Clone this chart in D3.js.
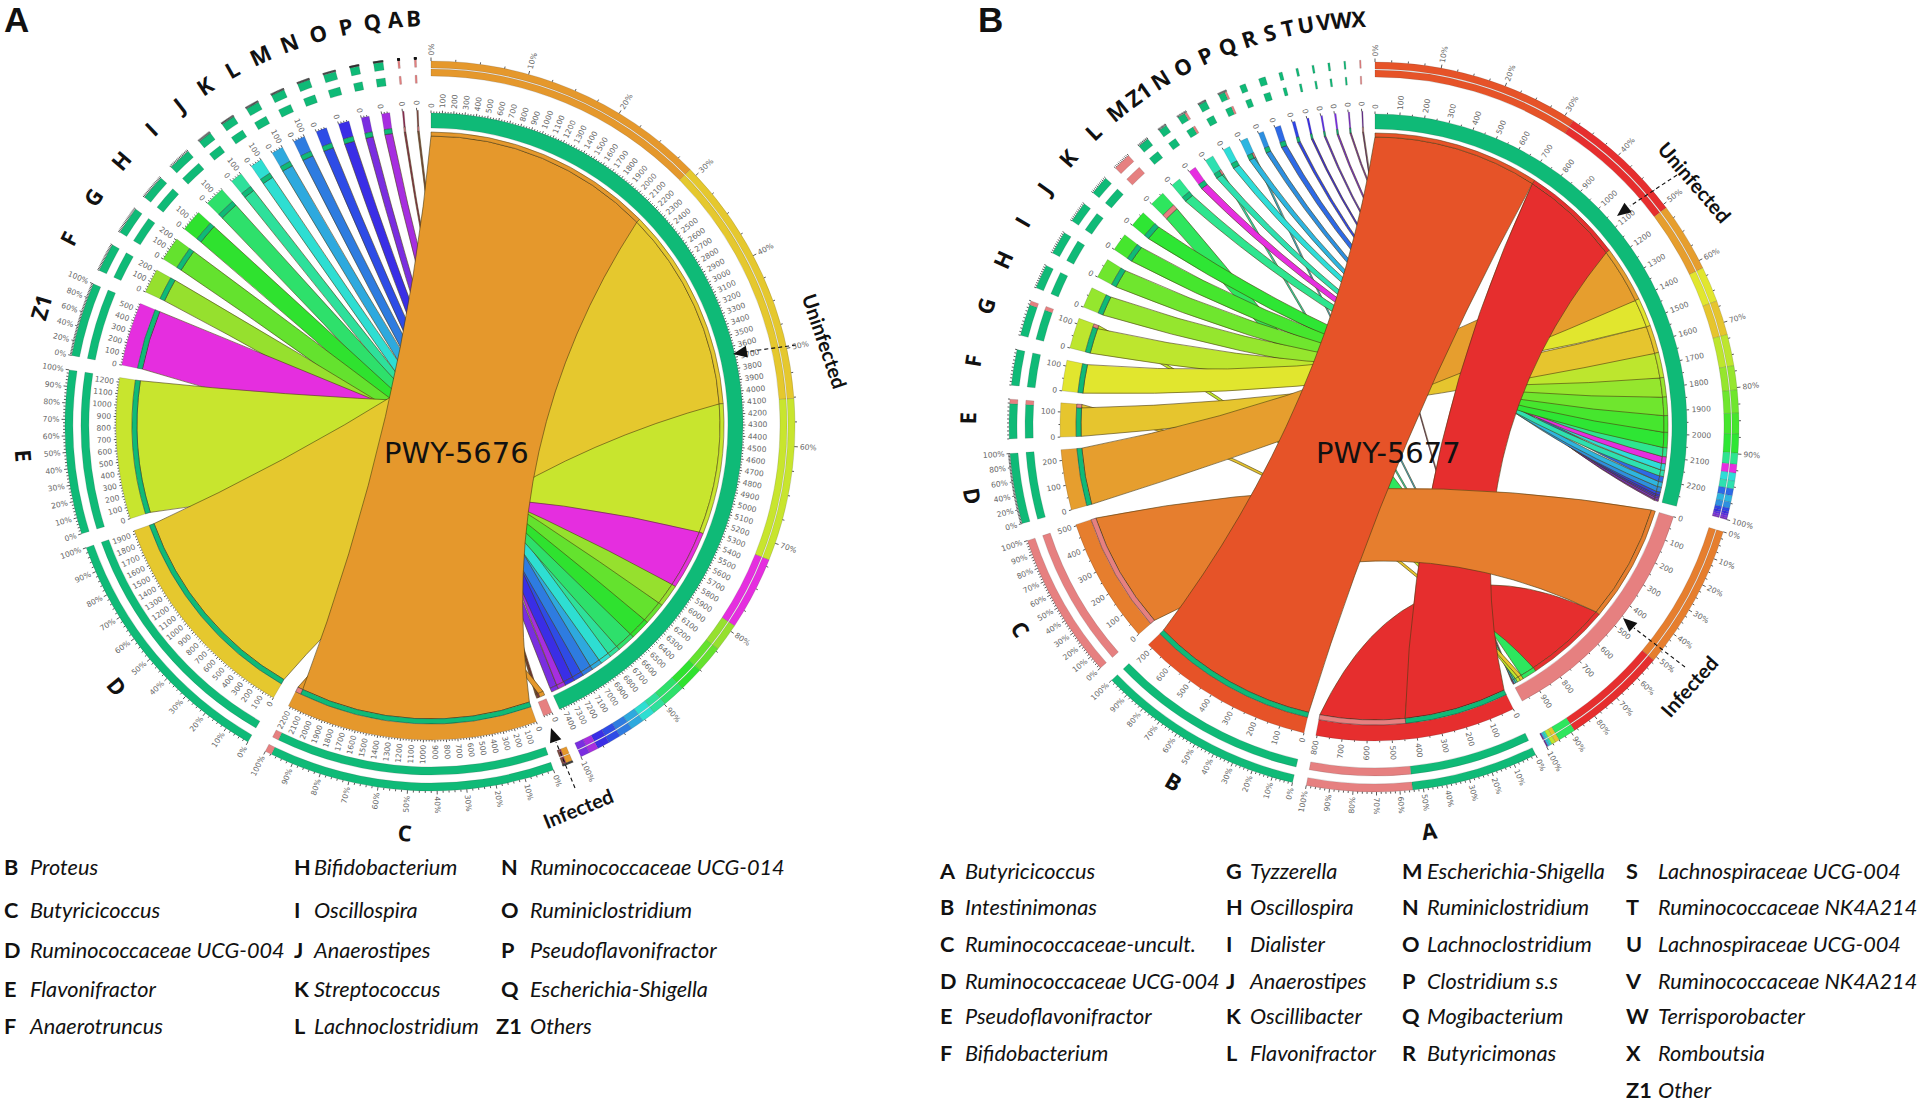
<!DOCTYPE html>
<html><head><meta charset="utf-8">
<script src="https://cdnjs.cloudflare.com/ajax/libs/d3/7.8.5/d3.min.js"></script>
<style>html,body{margin:0;background:#fff}svg{display:block}</style></head>
<body><svg id="c" width="1920" height="1103" viewBox="0 0 1920 1103"></svg>
<script>
// ---------- data: panel A (PWY-5676)
const speciesA   =["C","D","E","Z1","F","G","H","I","J","K","L","M","N","O","P","Q","A","B"];
const uninfectedA=[2170,1930,1240,560,215,210,190,175,105,105,103,103,95,95,70,72,0,0];
const infectedA  =[50,0,0,0,0,0,0,0,0,0,0,0,0,0,0,0,15,15];
const colorsA    =["#E5982C","#E5C82E","#C8E52E","#E52EDF","#96E02E","#64E22E","#2FE22F","#2EE06B","#2EE09B","#2EDED2","#2EA9DE","#2E7CE0","#2E4CE6","#3A2EE6","#7A2EE0","#A62EE0","#8a2e50","#7a4a40"];
// ---------- data: panel B (PWY-5677)
const speciesB   =["A","B","C","D","E","F","G","H","I","J","K","L","M","Z1","N","O","P","Q","R","S","T","U","V","W","X"];
const uninfectedB=[440,720,0,243,121,123,109,84,80,72,66,0,39,30,27,28,23,21,24,12,8,7,7,6,0];
const infectedB  =[365,0,505,0,15,0,14,0,0,0,0,62,0,0,8,0,7,0,0,0,0,0,0,0,5];
const colorsB    =["#E62E2E","#E65328","#E67E2E","#E69E2E","#E6C52E","#E1E62E","#BDE62E","#95E62E","#6FE62E","#46E62E","#2EE634","#2EE65E","#2EE58F","#E62EE0","#2EE0B0","#2EDDD8","#2EB5E0","#2E8FE0","#2E6AE6","#2E45E6","#3A2EE6","#5B2EE6","#7B2EE6","#7B2EC0","#6A2E90"];
const hubNames=["Uninfected","Infected"];
const hubColors=["#0FBA77","#E68080"];
// ---------- legends
const legendLettersA=[["B","C","D","E","F"],["H","I","J","K","L"],["N","O","P","Q","Z1"]];
const legendNamesA=[["Proteus","Butyricicoccus","Ruminococcaceae UCG-004","Flavonifractor","Anaerotruncus"],
 ["Bifidobacterium","Oscillospira","Anaerostipes","Streptococcus","Lachnoclostridium"],
 ["Ruminococcaceae UCG-014","Ruminiclostridium","Pseudoflavonifractor","Escherichia-Shigella","Others"]];
const legendLettersB=[["A","B","C","D","E","F"],["G","H","I","J","K","L"],["M","N","O","P","Q","R"],["S","T","U","V","W","X","Z1"]];
const legendNamesB=[["Butyricicoccus","Intestinimonas","Ruminococcaceae-uncult.","Ruminococcaceae UCG-004","Pseudoflavonifractor","Bifidobacterium"],
 ["Tyzzerella","Oscillospira","Dialister","Anaerostipes","Oscillibacter","Flavonifractor"],
 ["Escherichia-Shigella","Ruminiclostridium","Lachnoclostridium","Clostridium s.s","Mogibacterium","Butyricimonas"],
 ["Lachnospiraceae UCG-004","Ruminococcaceae NK4A214","Lachnospiraceae UCG-004","Ruminococcaceae NK4A214","Terrisporobacter","Romboutsia","Other"]];

const svg=d3.select("#c");
const rad=d=>d*Math.PI/180;
const R={hubO1:[357,364],hubO2:[349,356],spO1:[358,366],spO2:[342,350],ide:[299,315],hub:[297,312],strip:[294,299],hubCap:[289,293],rib:294,ribHub:289,letter:408};
const CTRL=0.42;

function drawPanel(p){
  const g=svg.append("g").attr("transform",`translate(${p.cx},${p.cy})`);
  const sumU=d3.sum(p.u), sumF=d3.sum(p.f);
  const segs=[{name:hubNames[0],color:hubColors[0],size:sumU,hub:true},{name:hubNames[1],color:hubColors[1],size:sumF,hub:true}]
    .concat(p.species.map((s,i)=>({name:s,color:p.colors[i],size:p.u[i]+p.f[i],idx:i})));
  const total=d3.sum(segs,d=>d.size);
  const gaps=segs.map((s,i)=>p.gapAfter(i));
  const k=d3.scaleLinear().domain([0,total]).range([0,360-d3.sum(gaps)]);
  let cum=0,gs=0;
  segs.forEach((s,i)=>{s.a0=p.start+k(cum)+gs;cum+=s.size;s.a1=p.start+k(cum)+gs;gs+=gaps[i];
    s.scale=d3.scaleLinear().domain([0,s.size]).range([s.a0,s.a1]);s.parts=[];});
  // flows
  const flows=[];
  segs.slice(2).forEach(s=>{
    let pos=0;
    [[0,p.u[s.idx]],[1,p.f[s.idx]]].forEach(([h,v])=>{ if(v>0){flows.push({s,h,v,sp0:s.scale(pos),sp1:s.scale(pos+v)});
      s.parts.push({c:hubColors[h],a0:s.scale(pos),a1:s.scale(pos+v)});pos+=v;}});
  });
  [0,1].forEach(h=>{let pos=0;
    flows.filter(f=>f.h===h).sort((a,b)=>d3.descending(a.v,b.v)).forEach(f=>{
      f.h0=segs[h].scale(pos);f.h1=segs[h].scale(pos+f.v);
      segs[h].parts.push({c:f.s.color,a0:f.h0,a1:f.h1});pos+=f.v;});
  });
  const pt=(a,r)=>[r*Math.sin(rad(a)),-r*Math.cos(rad(a))];
  const ctrl=(A,B)=>[CTRL*(A[0]+B[0])/2,CTRL*(A[1]+B[1])/2];
  function ribbon(f){
    const pa=d3.path();
    const A0=pt(f.sp0,R.rib),A1=pt(f.sp1,R.rib),B0=pt(f.h0,R.ribHub),B1=pt(f.h1,R.ribHub);
    pa.moveTo(...A0);
    pa.arc(0,0,R.rib,rad(f.sp0-90),rad(f.sp1-90));
    let c=ctrl(A1,B0); pa.quadraticCurveTo(c[0],c[1],B0[0],B0[1]);
    pa.arc(0,0,R.ribHub,rad(f.h0-90),rad(f.h1-90));
    c=ctrl(B1,A0); pa.quadraticCurveTo(c[0],c[1],A0[0],A0[1]);
    pa.closePath();
    return pa.toString();
  }
  const arc=d3.arc();
  const band=(r,a0,a1)=>arc({innerRadius:r[0],outerRadius:r[1],startAngle:rad(a0),endAngle:rad(a1)});
  // ribbons, biggest on top
  g.append("g").selectAll("path").data(flows.slice().sort((a,b)=>d3.ascending(a.v,b.v))).join("path")
    .attr("d",ribbon).attr("fill",d=>d.s.color).attr("stroke","#4a3a10").attr("stroke-opacity",.75).attr("stroke-width",.8);
  // hub caps
  g.append("g").selectAll("path").data(flows).join("path")
    .attr("d",d=>band(R.hubCap,d.h0,d.h1)).attr("fill",d=>d.s.color).attr("stroke","#4a3a10").attr("stroke-opacity",.7).attr("stroke-width",.7);
  // ideograms
  g.append("g").selectAll("path").data(segs).join("path")
    .attr("d",d=>band(d.hub?R.hub:R.ide,d.a0,d.a1)).attr("fill",d=>d.color)
    .attr("stroke","#333").attr("stroke-opacity",.35).attr("stroke-width",.5);
  // species caps
  g.append("g").selectAll("path").data(flows).join("path")
    .attr("d",d=>band(R.strip,d.sp0,d.sp1)).attr("fill",d=>hubColors[d.h]).attr("stroke","#222").attr("stroke-opacity",.7).attr("stroke-width",.6);
  // percent rings
  segs.forEach(s=>{
    const r1=s.hub?R.hubO1:R.spO1, r2=s.hub?R.hubO2:R.spO2;
    [r1,r2].forEach(r=>{
      g.append("g").selectAll("path").data(s.parts).join("path")
        .attr("d",d=>band(r,d.a0,d.a1)).attr("fill",d=>d.c).attr("stroke","#333").attr("stroke-opacity",.4).attr("stroke-width",.4);
    });
    const arcDeg=s.a1-s.a0;
    const pct=d3.scaleLinear().domain([0,100]).range([s.a0,s.a1]);
    const labStep=arcDeg>=18?10:arcDeg>=9.5?20:0;
    const minStep=s.hub&&arcDeg>18?2.5:arcDeg>=9.5?2:(p.id==="A"?5:(arcDeg>1.2?10:0));
    if(minStep) g.append("g").selectAll("line").data(d3.range(0,100.01,minStep)).join("line")
      .attr("x1",d=>pt(pct(d),r1[1])[0]).attr("y1",d=>pt(pct(d),r1[1])[1])
      .attr("x2",d=>pt(pct(d),r1[1]+(labStep&&d%labStep===0?3.5:2))[0]).attr("y2",d=>pt(pct(d),r1[1]+(labStep&&d%labStep===0?3.5:2))[1])
      .attr("stroke","#111").attr("stroke-width",.7);
    const lab=(sel,rr,fmt)=>sel.attr("transform",d=>{const a=d.a;const q=pt(a,rr);
        const rot=((a%360)+360)%360;return `translate(${q[0]},${q[1]}) rotate(${rot<180?rot-90:rot+90})`;})
      .attr("text-anchor",d=>{const rot=((d.a%360)+360)%360;return rot<180?"start":"end";})
      .attr("dominant-baseline","central").attr("font-family","DejaVu Sans").attr("font-size",7.6).attr("fill","#666").text(fmt);
    if(labStep) lab(g.append("g").selectAll("text").data(d3.range(0,100.01,labStep).map(v=>({v,a:pct(v)}))).join("text"),r1[1]+5.5,d=>d.v+"%");
    // value axis
    const maj=d3.range(0,s.size+.01,100);
    const mstep=p.id==="A"?25:50;
    g.append("g").selectAll("line").data(d3.range(0,s.size+.01,mstep)).join("line")
      .attr("x1",d=>pt(s.scale(d),s.hub?R.hub[1]:R.ide[1])[0]).attr("y1",d=>pt(s.scale(d),s.hub?R.hub[1]:R.ide[1])[1])
      .attr("x2",d=>pt(s.scale(d),(s.hub?R.hub[1]:R.ide[1])+(d%100===0?2.5:1.5))[0]).attr("y2",d=>pt(s.scale(d),(s.hub?R.hub[1]:R.ide[1])+(d%100===0?2.5:1.5))[1])
      .attr("stroke","#111").attr("stroke-width",.7);
    lab(g.append("g").selectAll("text").data(maj.map(v=>({v,a:s.scale(v)}))).join("text"),(s.hub?R.hub[1]:R.ide[1])+5,d=>d.v);
    // segment letter
    if(!s.hub){
      const am=(s.a0+s.a1)/2,q=pt(am,R.letter),nor=((am%360)+360)%360;
      g.append("text").attr("transform",`translate(${q[0]},${q[1]}) rotate(${nor>90&&nor<270?nor-180:nor})`)
        .attr("text-anchor","middle").attr("dominant-baseline","central")
        .attr("font-family","Open Sans").attr("font-weight",700).attr("font-size",22).attr("fill","#111").text(s.name);
    }
  });
  // centre label
  svg.append("text").attr("x",p.titleX).attr("y",463).attr("font-family","DejaVu Sans").attr("font-size",29).attr("fill","#111").text(p.title);
  svg.append("text").attr("x",p.tagX).attr("y",p.tagY).attr("font-family","Liberation Sans").attr("font-weight",700).attr("font-size",35).attr("fill","#111").text(p.id);
  // annotations
  p.notes.forEach(a=>{
    svg.append("text").attr("transform",`translate(${a.x},${a.y}) rotate(${a.rot})`).attr("text-anchor","middle").attr("dominant-baseline","central")
      .attr("font-family","Lato").attr("font-weight",700).attr("font-size",a.fs).attr("fill","#111").text(a.t);
    svg.append("line").attr("x1",a.l[0]).attr("y1",a.l[1]).attr("x2",a.l[2]).attr("y2",a.l[3]).attr("stroke","#111").attr("stroke-width",1.1).attr("stroke-dasharray","4 3");
    const ang=Math.atan2(a.l[3]-a.tip[1],a.l[2]-a.tip[0]),L=14,W=6;
    const bx=a.tip[0]+L*Math.cos(ang),by=a.tip[1]+L*Math.sin(ang);
    svg.append("path").attr("d",d3.line()([a.tip,[bx-W*Math.sin(ang),by+W*Math.cos(ang)],[bx+W*Math.sin(ang),by-W*Math.cos(ang)]])+"Z").attr("fill","#111");
  });
  // legend
  p.legLetters.forEach((col,ci)=>col.forEach((l,ri)=>{
    const y=p.legY[ri];
    svg.append("text").attr("x",l==="Z1"?p.legZ[ci]:p.legLX[ci]).attr("y",y).attr("dominant-baseline","central").attr("font-family","Lato").attr("font-weight",700).attr("font-size",p.legFs).attr("fill","#111").text(l);
    svg.append("text").attr("x",p.legNX[ci]).attr("y",y).attr("dominant-baseline","central").attr("font-family","Lato").attr("font-style","italic").attr("font-size",p.legFs).attr("fill","#111").text(p.legNames[ci][ri]);
  }));
}

const gapListB=[2,2.1,2.2,2.6,2.8,2.3,2.2,2.3];
drawPanel({id:"A",cx:431,cy:425,start:0,gapAfter:i=>i===0?1.5:i===1?1.6:i===2?3.1:2.3,species:speciesA,u:uninfectedA,f:infectedA,colors:colorsA,
  title:"PWY-5676",titleX:384,tagX:4,tagY:32,
  notes:[{t:"Uninfected",x:825,y:341,rot:71,fs:20,l:[796,345,745,352],tip:[733,354]},
         {t:"Infected",x:578,y:808,rot:-22,fs:20,l:[575,788,556,742],tip:[551,728]}],
  legLetters:legendLettersA,legNames:legendNamesA,legY:[867,910,950,989,1026],
  legLX:[4,294,501],legZ:[4,294,496],legNX:[30,314,530],legFs:21.7});
drawPanel({id:"B",cx:1375,cy:426,start:0,gapAfter:i=>i<gapListB.length?gapListB[i]:2.2,species:speciesB,u:uninfectedB,f:infectedB,colors:colorsB,
  title:"PWY-5677",titleX:1316,tagX:978,tagY:32,
  notes:[{t:"Uninfected",x:1695,y:182,rot:49,fs:20,l:[1677,175,1630,206],tip:[1617,216]},
         {t:"Infected",x:1689,y:686,rot:-48,fs:20,l:[1685,667,1634,628],tip:[1623,618]}],
  legLetters:legendLettersB,legNames:legendNamesB,legY:[871,907,944,981,1016,1053,1090],
  legLX:[940,1226,1402,1626],legZ:[940,1226,1402,1626],legNX:[965,1250,1427,1658],legFs:21.7});
</script></body></html>
